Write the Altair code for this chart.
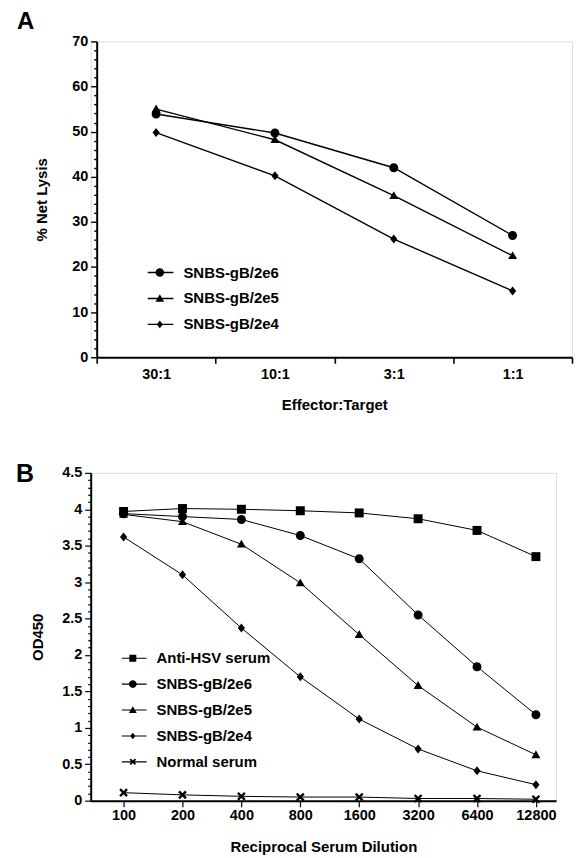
import math
import altair as alt
import pandas as pd

# ---------------- data ----------------
ratios = ["30:1", "10:1", "3:1", "1:1"]
a_series = ["SNBS-gB/2e6", "SNBS-gB/2e5", "SNBS-gB/2e4"]
a_2e6 = [53.9, 49.7, 42.0, 27.0]
a_2e5 = [55.0, 48.2, 35.8, 22.5]
a_2e4 = [49.8, 40.2, 26.2, 14.7]

dilutions = ["100", "200", "400", "800", "1600", "3200", "6400", "12800"]
b_series = ["Anti-HSV serum", "SNBS-gB/2e6", "SNBS-gB/2e5", "SNBS-gB/2e4", "Normal serum"]
b_anti = [3.97, 4.01, 4.00, 3.98, 3.95, 3.87, 3.71, 3.35]
b_2e6 = [3.94, 3.90, 3.86, 3.64, 3.32, 2.55, 1.84, 1.18]
b_2e5 = [3.93, 3.83, 3.52, 2.99, 2.28, 1.58, 1.01, 0.63]
b_2e4 = [3.62, 3.10, 2.37, 1.70, 1.12, 0.71, 0.41, 0.22]
b_normal = [0.11, 0.08, 0.06, 0.05, 0.05, 0.03, 0.03, 0.02]

FONT = "Liberation Sans"


def long_df(cats, names, values_list):
    rows = []
    for name, vals in zip(names, values_list):
        for i, (c, v) in enumerate(zip(cats, vals)):
            rows.append({"cat": c, "idx": i, "series": name, "value": v})
    return pd.DataFrame(rows)


df_a = long_df(ratios, a_series, [a_2e6, a_2e5, a_2e4])
df_b = long_df(dilutions, b_series, [b_anti, b_2e6, b_2e5, b_2e4, b_normal])


# ---------------- marker glyphs (unit box -1..1, all filled, clockwise) ----------------
def fmt(v):
    s = f"{v:.3f}".rstrip("0").rstrip(".")
    return s if s not in ("", "-0") else "0"


def poly(pts):
    return "M" + "L".join(f"{fmt(x)},{fmt(y)}" for x, y in pts) + "Z"


def circle(r, cx=0.0):
    return (f"M{fmt(cx + r)},0A{fmt(r)},{fmt(r)},0,1,1,{fmt(cx - r)},0"
            f"A{fmt(r)},{fmt(r)},0,1,1,{fmt(cx + r)},0Z")


def tri(s, cx=0.0):
    return poly([(cx, -s), (cx + s, 0.75 * s), (cx - s, 0.75 * s)])


def dia(s, cx=0.0, w=0.8):
    return poly([(cx, -s), (cx + w * s, 0), (cx, s), (cx - w * s, 0)])


def sq(s, cx=0.0):
    return poly([(cx - s, -s), (cx + s, -s), (cx + s, s), (cx - s, s)])


def xmark(s, cx=0.0):
    a, b = 0.26, 1.1
    plus = [(a, -b), (a, -a), (b, -a), (b, a), (a, a), (a, b),
            (-a, b), (-a, a), (-b, a), (-b, -a), (-a, -a), (-a, -b)]
    r = 1 / math.sqrt(2)
    return poly([(cx + s * (x - y) * r, s * (x + y) * r) for x, y in plus])


def seg(half_px, thick_px):
    t = thick_px / 2 / half_px
    return poly([(-1, -t), (1, -t), (1, t), (-1, t)])


# panel A glyphs
a_plot_shapes = [circle(1), tri(1), dia(1)]
a_plot_sizes = [81, 81, 64]
A_HALF = 13.0
a_leg_shapes = [seg(A_HALF, 1.4) + circle(4.3 / A_HALF, -0.05),
                seg(A_HALF, 1.4) + tri(4.3 / A_HALF, -0.05),
                seg(A_HALF, 1.4) + dia(3.8 / A_HALF, -0.05)]

# panel B glyphs
b_plot_shapes = [sq(1), circle(1), tri(1), dia(1), xmark(1)]
b_plot_sizes = [52, 64, 64, 42, 49]
B_HALF = 12.5
b_leg_shapes = [seg(B_HALF, 1.1) + sq(3.5 / B_HALF, -0.1),
                seg(B_HALF, 1.1) + circle(3.9 / B_HALF, -0.1),
                seg(B_HALF, 1.1) + tri(3.9 / B_HALF, -0.1),
                seg(B_HALF, 1.1) + dia(3.3 / B_HALF, -0.1),
                seg(B_HALF, 1.1) + xmark(3.4 / B_HALF, -0.1)]


def panel(df, cats, names, xscale, xaxis, yscale, yaxis, plot_shapes, plot_sizes,
          leg_shapes, half, leg_x, leg_y, width, height, title, line_w):
    base = alt.Chart(df)
    x = alt.X("cat:N", sort=cats, scale=xscale, axis=xaxis)
    y = alt.Y("value:Q", scale=yscale, axis=yaxis)
    lines = base.mark_line(color="black", strokeWidth=line_w).encode(
        x=x, y=y, detail="series:N", order="idx:Q")
    pts = base.mark_point(filled=True, color="black", opacity=1).encode(
        x=x, y=y,
        shape=alt.Shape("series:N", scale=alt.Scale(domain=names, range=plot_shapes), legend=None),
        size=alt.Size("series:N", scale=alt.Scale(domain=names, range=plot_sizes), legend=None),
    )
    leg = base.mark_point(filled=True, color="black", opacity=0).encode(
        x=x, y=y,
        shape=alt.Shape(
            "series:N",
            scale=alt.Scale(domain=names, range=leg_shapes),
            legend=alt.Legend(
                title=None, orient="none", legendX=leg_x, legendY=leg_y,
                labelFont=FONT, labelFontSize=15, labelFontWeight="bold", labelColor="black",
                symbolSize=(2 * half) ** 2, symbolStrokeWidth=0,
                symbolFillColor="black", symbolOpacity=1,
                clipHeight=26, rowPadding=0, labelOffset=10, padding=0,
            ),
        ),
    )
    return alt.layer(lines, pts, leg).resolve_scale(shape="independent").properties(
        width=width, height=height, title=title)


axis_common = dict(
    labelFont=FONT, labelFontSize=14.5, labelFontWeight="bold", labelColor="black",
    titleFont=FONT, titleFontSize=15, titleFontWeight="bold", titleColor="black",
    domainColor="black", tickColor="black", grid=False,
)

# ---------- panel A ----------
chart_a = panel(
    df_a, ratios, a_series,
    xscale=alt.Scale(paddingInner=0, paddingOuter=0, range=[6, 483]),
    xaxis=alt.Axis(title="Effector:Target", labelAngle=0, tickBand="extent", tickSize=6,
                   tickWidth=1.6, domainWidth=2, labelPadding=4, titlePadding=17, **axis_common),
    yscale=alt.Scale(domain=[0, 70], nice=False),
    yaxis=alt.Axis(title="% Net Lysis", values=list(range(0, 71, 2)), offset=-6,
                   labelExpr="datum.value % 10 === 0 ? datum.label : ''",
                   tickSize={"condition": {"test": "datum.value % 10 === 0", "value": 6}, "value": 3},
                   tickWidth=1.4, domainWidth=2, labelPadding=3, titlePadding=22, **axis_common),
    plot_shapes=a_plot_shapes, plot_sizes=a_plot_sizes, leg_shapes=a_leg_shapes, half=A_HALF,
    leg_x=57, leg_y=219, width=483, height=317,
    title=alt.TitleParams(text="A", anchor="start", frame="group", font=FONT, fontSize=24,
                          fontWeight="bold", color="black", dx=-74, offset=-1),
    line_w=1.4,
)

# ---------- panel B ----------
chart_b = panel(
    df_b, dilutions, b_series,
    xscale=alt.Scale(type="point", padding=0.45, align=0.62),
    xaxis=alt.Axis(title="Reciprocal Serum Dilution", labelAngle=0, tickSize=6, tickWidth=1.2,
                   domainWidth=2, labelPadding=2, titlePadding=17, **axis_common),
    yscale=alt.Scale(domain=[0, 4.5], nice=False),
    yaxis=alt.Axis(title="OD450", values=[round(i * 0.1, 1) for i in range(46)],
                   labelExpr="round(datum.value*10) % 5 === 0 ? format(datum.value, '~g') : ''",
                   tickSize={"condition": {"test": "round(datum.value*10) % 5 === 0", "value": 6}, "value": 3},
                   tickWidth=1.2, domainWidth=2, labelPadding=3, titlePadding=16, **axis_common),
    plot_shapes=b_plot_shapes, plot_sizes=b_plot_sizes, leg_shapes=b_leg_shapes, half=B_HALF,
    leg_x=31, leg_y=173, width=467, height=329,
    title=alt.TitleParams(text="B", anchor="start", frame="group", font=FONT, fontSize=25,
                          fontWeight="bold", color="black", dx=-75, dy=26, offset=4),
    line_w=1.0,
)

chart = alt.vconcat(chart_a, chart_b, spacing=48).properties(
    padding={"left": 7, "top": 0, "right": 0, "bottom": 0}
).configure_view(stroke=None).configure(background="white")

chart.save("out.html", embed_options={"renderer": "svg", "actions": False})
